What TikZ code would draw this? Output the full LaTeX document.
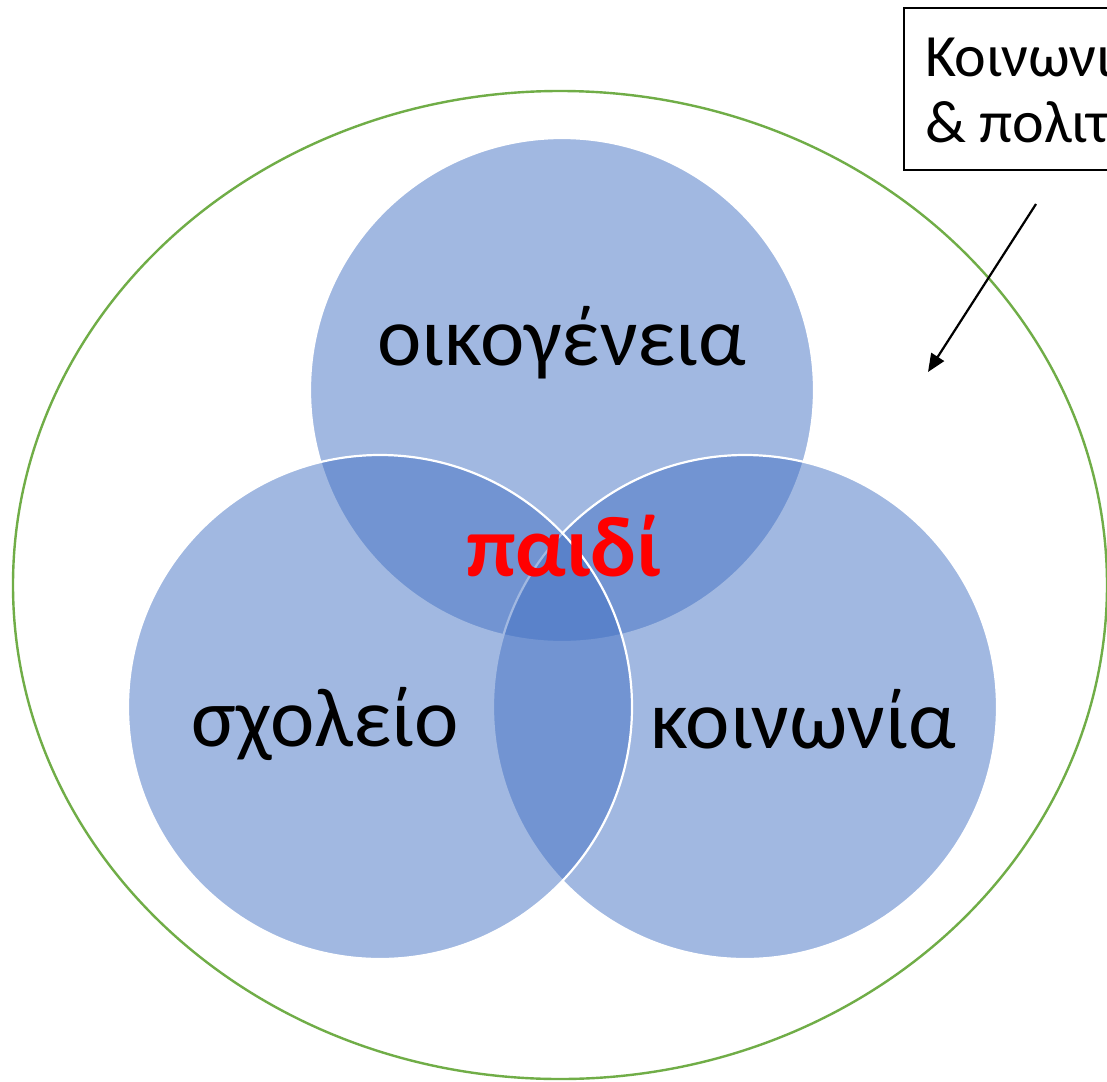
\documentclass[tikz,border=0pt]{standalone}
\usepackage{fontspec}
\setmainfont{Carlito}
\usetikzlibrary{arrows.meta}
\definecolor{vennblue}{HTML}{4472C4}
\definecolor{frame}{HTML}{70AD47}
\tikzset{
  venn/.style={fill=vennblue, fill opacity=0.5, draw=white, line width=2.2pt},
  lbl/.style={text=black, font=\fontsize{84}{90}\selectfont, inner sep=0pt, anchor=base},
  boxtext/.style={text=black, font=\fontsize{60}{66}\selectfont, inner sep=0pt, anchor=base west},
}
\begin{document}
\begin{tikzpicture}[x=1pt,y=-1pt]
\useasboundingbox (0,0) rectangle (1107,1081);
\clip (0,0) rectangle (1107,1081);
\fill[white] (0,0) rectangle (1107,1081);
% context ellipse
\draw[frame, line width=2.4pt] (560,585) ellipse [x radius=547, y radius=494];
% three overlapping circles
\path[venn] (562,390) circle [radius=252];
\path[venn] (745,707) circle [radius=252];
\path[venn] (380,707) circle [radius=252];
% labels
\node[lbl] (fam) at (562,365) {οικογένεια};
\node[lbl] (sch) at (325,746) {σχολείο};
\node[lbl] (soc) at (803,748) {κοινωνία};
\node[text=red, font=\bfseries\fontsize{86}{90}\selectfont, inner sep=0pt, anchor=base] (child) at (564,576) {παιδί};
% context box, running off the right edge
\draw[black, line width=1.4pt] (904,8) rectangle (1130,170);
\node[boxtext] (ctx1) at (925,77) {Κοινωνικό};
\node[boxtext] (ctx2) at (925,142) {\& πολιτισμικό};
\coordinate (tail) at (1036,204);
\coordinate (head) at (928,372);
\draw[line width=2.2pt, -{Triangle[length=18pt,width=15pt]}] (tail) -- (head);
\end{tikzpicture}
\end{document}
